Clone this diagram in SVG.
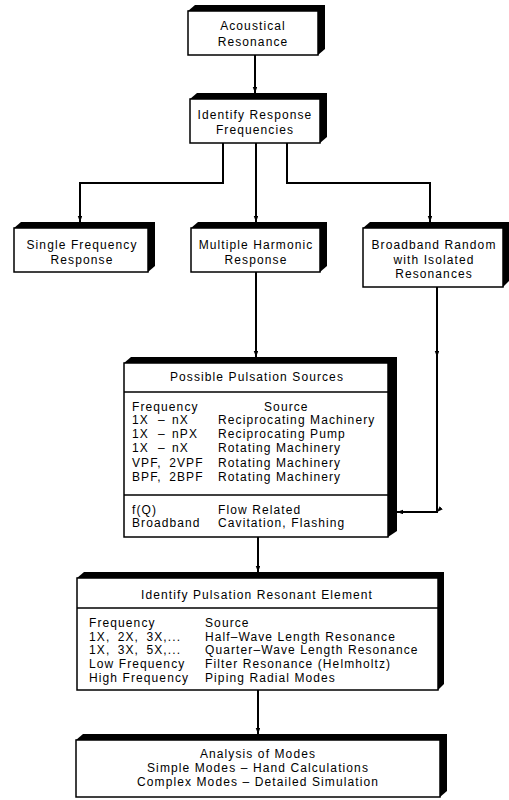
<svg xmlns="http://www.w3.org/2000/svg" width="509" height="800" viewBox="0 0 509 800">
<style>
.bg{fill:#fff}
.sh{fill:#000}
.fr{fill:#fff;stroke:#000;stroke-width:1.5}
.dv{stroke:#000;stroke-width:1.5;fill:none}
.cn{fill:none;stroke:#000;stroke-width:2}
text{font-family:"Liberation Sans",Arial,sans-serif;font-size:12px;fill:#000;letter-spacing:1.1px}
.c{text-anchor:middle}
.ws{word-spacing:3px}
</style>
<defs>
<marker id="ah" markerUnits="userSpaceOnUse" markerWidth="7" markerHeight="5" refX="6" refY="2.25" orient="auto">
<path d="M0,0 L6,2.25 L0,4.5 z" fill="#000"/>
</marker>
</defs>
<rect class="bg" x="0" y="0" width="509" height="800"/>

<g id="connectors">
<polyline class="cn" points="255,55 255,93" marker-end="url(#ah)"/>
<polyline class="cn" points="223,143 223,183 80,183 80,222" marker-end="url(#ah)"/>
<polyline class="cn" points="256,143 256,222" marker-end="url(#ah)"/>
<polyline class="cn" points="287,143 287,183 430,183 430,222" marker-end="url(#ah)"/>
<polyline class="cn" points="256,272 256,357" marker-end="url(#ah)"/>
<polyline class="cn" points="437,287 437,357 437,512 397,512" marker-mid="url(#ah)" marker-end="url(#ah)"/>
<polyline class="cn" points="258,537 258,572" marker-end="url(#ah)"/>
<polyline class="cn" points="258,690 258,734" marker-end="url(#ah)"/>
</g>

<g id="n1">
<polygon class="sh" points="188,11 195,5 325,5 325,49 318,55"/>
<rect class="fr" x="188" y="11" width="130" height="44"/>
<text class="c" x="253" y="30">Acoustical</text>
<text class="c" x="253" y="46">Resonance</text>
</g>

<g id="n2">
<polygon class="sh" points="190,99 197,93 327,93 327,137 320,143"/>
<rect class="fr" x="190" y="99" width="130" height="44"/>
<text class="c" x="255" y="119">Identify Response</text>
<text class="c" x="255" y="134">Frequencies</text>
</g>

<g id="n3">
<polygon class="sh" points="14,228 21,222 155,222 155,266 148,272"/>
<rect class="fr" x="14" y="228" width="134" height="44"/>
<text class="c" x="82" y="249">Single Frequency</text>
<text class="c" x="82" y="264">Response</text>
</g>

<g id="n4">
<polygon class="sh" points="191,228 198,222 327,222 327,266 320,272"/>
<rect class="fr" x="191" y="228" width="129" height="44"/>
<text class="c" x="256" y="249">Multiple Harmonic</text>
<text class="c" x="256" y="264">Response</text>
</g>

<g id="n5">
<polygon class="sh" points="363,228 370,222 509,222 509,281 503,287"/>
<rect class="fr" x="363" y="228" width="140" height="59"/>
<text class="c" x="434" y="249">Broadband Random</text>
<text class="c" x="434" y="264">with Isolated</text>
<text class="c" x="434" y="278">Resonances</text>
</g>

<g id="n6">
<polygon class="sh" points="124,363 131,357 397,357 397,531 388,537"/>
<rect class="fr" x="124" y="363" width="264" height="174"/>
<line class="dv" x1="124" y1="392" x2="388" y2="392"/>
<line class="dv" x1="124" y1="495" x2="388" y2="495"/>
<text class="c" x="257" y="381">Possible Pulsation Sources</text>
<text x="132" y="411">Frequency</text>
<text x="264" y="411">Source</text>
<text x="132" y="424">1X<tspan x="158">–</tspan><tspan x="172">nX</tspan></text>
<text x="218" y="424">Reciprocating Machinery</text>
<text x="132" y="438">1X<tspan x="158">–</tspan><tspan x="172">nPX</tspan></text>
<text x="218" y="438">Reciprocating Pump</text>
<text x="132" y="452">1X<tspan x="158">–</tspan><tspan x="172">nX</tspan></text>
<text x="218" y="452">Rotating Machinery</text>
<text class="ws" x="132" y="467">VPF, 2VPF</text>
<text x="218" y="467">Rotating Machinery</text>
<text class="ws" x="132" y="481">BPF, 2BPF</text>
<text x="218" y="481">Rotating Machinery</text>
<text x="132" y="514">f(Q)</text>
<text x="218" y="514">Flow Related</text>
<text x="132" y="527">Broadband</text>
<text x="218" y="527">Cavitation, Flashing</text>
</g>

<g id="n7">
<polygon class="sh" points="77,578 84,572 444,572 444,684 438,690"/>
<rect class="fr" x="77" y="578" width="361" height="112"/>
<line class="dv" x1="77" y1="608" x2="438" y2="608"/>
<text class="c" x="257" y="599">Identify Pulsation Resonant Element</text>
<text x="89" y="627">Frequency</text>
<text x="205" y="627">Source</text>
<text class="ws" x="89" y="641">1X, 2X, 3X,...</text>
<text x="205" y="641">Half–Wave Length Resonance</text>
<text class="ws" x="89" y="654">1X, 3X, 5X,...</text>
<text x="205" y="654">Quarter–Wave Length Resonance</text>
<text x="89" y="668">Low Frequency</text>
<text x="205" y="668">Filter Resonance (Helmholtz)</text>
<text x="89" y="682">High Frequency</text>
<text x="205" y="682">Piping Radial Modes</text>
</g>

<g id="n8">
<polygon class="sh" points="76,740 83,734 447,734 447,791 440,797"/>
<rect class="fr" x="76" y="740" width="364" height="57"/>
<text class="c" x="258" y="758">Analysis of Modes</text>
<text class="c" x="258" y="772">Simple Modes – Hand Calculations</text>
<text class="c" x="258" y="786">Complex Modes – Detailed Simulation</text>
</g>
</svg>
